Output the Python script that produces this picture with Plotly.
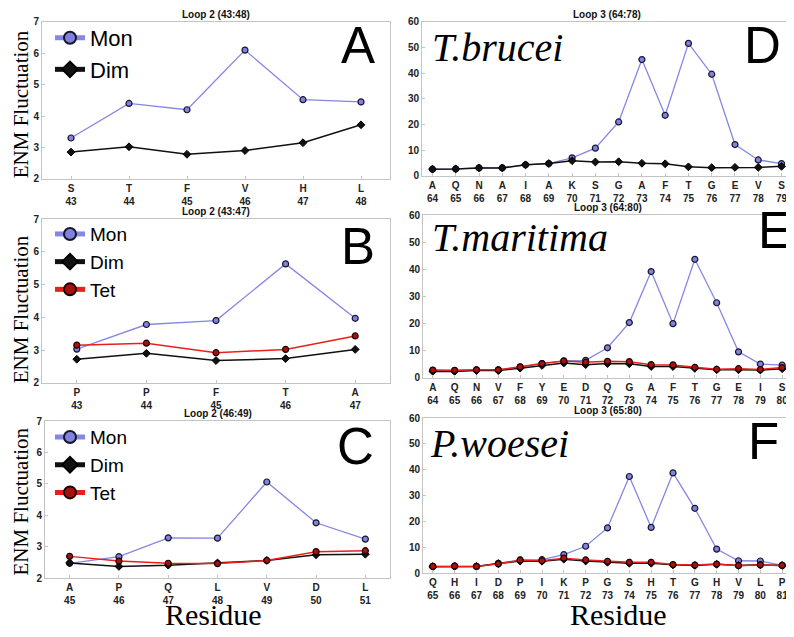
import plotly.graph_objects as go

# ---- data ----
a_res = ["S", "T", "F", "V", "H", "L"]
a_num = [43, 44, 45, 46, 47, 48]
a_mon = [3.30, 4.40, 4.20, 6.10, 4.52, 4.45]
a_dim = [2.85, 3.02, 2.78, 2.90, 3.15, 3.72]

b_res = ["P", "P", "F", "T", "A"]
b_num = [43, 44, 45, 46, 47]
b_mon = [3.03, 3.78, 3.90, 5.63, 3.97]
b_dim = [2.72, 2.90, 2.68, 2.74, 3.02]
b_tet = [3.15, 3.21, 2.92, 3.02, 3.43]

c_res = ["A", "P", "Q", "L", "V", "D", "L"]
c_num = [45, 46, 47, 48, 49, 50, 51]
c_mon = [2.47, 2.68, 3.28, 3.27, 5.06, 3.76, 3.24]
c_dim = [2.48, 2.37, 2.41, 2.48, 2.56, 2.74, 2.76]
c_tet = [2.69, 2.54, 2.47, 2.46, 2.56, 2.84, 2.87]

d_res = ["A", "Q", "N", "A", "I", "A", "K", "S", "G", "A", "F", "T", "G", "E", "V", "S"]
d_num = [64, 65, 66, 67, 68, 69, 70, 71, 72, 73, 74, 75, 76, 77, 78, 79]
d_mon = [2.6, 2.7, 3.1, 3.1, 4.3, 4.8, 7.0, 10.8, 21.0, 45.3, 23.6, 51.6, 39.6, 12.2, 6.2, 4.8]
d_dim = [2.6, 2.7, 3.1, 3.1, 4.3, 4.8, 5.9, 5.4, 5.5, 4.9, 4.7, 3.5, 3.2, 3.3, 3.3, 3.7]

e_res = ["A", "Q", "N", "V", "F", "Y", "E", "D", "Q", "G", "A", "F", "T", "G", "E", "I", "S"]
e_num = [64, 65, 66, 67, 68, 69, 70, 71, 72, 73, 74, 75, 76, 77, 78, 79, 80]
e_mon = [2.8, 2.7, 3.0, 3.0, 4.0, 5.3, 6.3, 6.5, 11.1, 20.4, 39.2, 20.0, 43.7, 27.7, 9.6, 5.1, 4.7]
e_dim = [2.4, 2.4, 2.7, 2.7, 3.6, 4.6, 5.5, 4.9, 5.3, 5.2, 4.2, 4.2, 3.5, 3.0, 3.0, 2.9, 3.4]
e_tet = [2.9, 2.8, 3.0, 3.0, 4.1, 5.3, 6.2, 5.8, 6.1, 6.0, 4.9, 4.8, 3.9, 3.2, 3.4, 3.1, 3.8]

f_res = ["Q", "H", "I", "D", "P", "I", "K", "P", "G", "S", "H", "T", "G", "H", "V", "L", "P"]
f_num = [65, 66, 67, 68, 69, 70, 71, 72, 73, 74, 75, 76, 77, 78, 79, 80, 81]
f_mon = [2.6, 2.7, 2.6, 3.8, 5.1, 5.2, 7.2, 10.4, 17.5, 37.4, 17.7, 38.8, 25.1, 9.3, 4.8, 4.7, 3.0]
f_dim = [2.5, 2.6, 2.6, 3.7, 4.7, 4.6, 5.4, 4.7, 4.2, 3.8, 3.8, 3.2, 3.0, 3.4, 3.0, 3.2, 3.0]
f_tet = [2.6, 2.7, 2.6, 3.6, 5.0, 4.8, 5.8, 5.1, 4.6, 4.2, 4.2, 3.3, 3.1, 3.5, 2.9, 3.2, 3.0]

# the page body has an 8px margin, so the figure sits at (8, 8)
OFF = 8
W, H = 794 - OFF, 637 - OFF

MON = dict(line=dict(color="#8686e4", width=1.3),
           marker=dict(symbol="circle", size=6, color="#8282dc", line=dict(color="#15152e", width=1.2)))
DIM = dict(line=dict(color="#111111", width=1.5),
           marker=dict(symbol="diamond", size=6, color="#111111", line=dict(color="#000000", width=1)))
TET = dict(line=dict(color="#e8201a", width=1.5),
           marker=dict(symbol="circle", size=6, color="#a81010", line=dict(color="#1a0000", width=1.2)))


def fx(x):
    return (x - OFF) / W


def fy(y):
    return 1 - (y - OFF) / H


def px(x, y, **kw):
    # annotation placed by page pixel position
    d = dict(x=fx(x), y=fy(y), xref="paper", yref="paper", showarrow=False,
             xanchor="center", yanchor="middle")
    d.update(kw)
    return d


fig = go.Figure()

panels = [
    ("", (42, 390), (16, 176), a_res, a_num, [("Mon", a_mon, MON), ("Dim", a_dim, DIM)],
     [2, 7], list(range(2, 8)), "Loop 2 (43:48)", "legend"),
    ("2", (42, 390), (217, 384), b_res, b_num, [("Mon", b_mon, MON), ("Dim", b_dim, DIM), ("Tet", b_tet, TET)],
     [2, 7], list(range(2, 8)), "Loop 2 (43:47)", "legend2"),
    ("3", (45, 390), (423, 583), c_res, c_num, [("Mon", c_mon, MON), ("Dim", c_dim, DIM), ("Tet", c_tet, TET)],
     [2, 7], list(range(2, 8)), "Loop 2 (46:49)", "legend3"),
    ("4", (422, 792), (16, 173), d_res, d_num, [("Mon", d_mon, MON), ("Dim", d_dim, DIM)],
     [0, 60], list(range(0, 61, 10)), "Loop 3 (64:78)", None),
    ("5", (423, 792), (213, 379), e_res, e_num, [("Mon", e_mon, MON), ("Dim", e_dim, DIM), ("Tet", e_tet, TET)],
     [0, 60], list(range(0, 61, 10)), "Loop 3 (64:80)", None),
    ("6", (423, 792), (420, 578), f_res, f_num, [("Mon", f_mon, MON), ("Dim", f_dim, DIM), ("Tet", f_tet, TET)],
     [0, 60], list(range(0, 61, 10)), "Loop 3 (65:80)", None),
]

annotations = []
layout_axes = {}
for suf, (x0, x1), (y0, y1), res, num, series, yr, yt, title, leg in panels:
    for name, vals, style in series:
        fig.add_trace(go.Scatter(
            x=num, y=vals, name=name, mode="lines+markers",
            line=style["line"], marker=style["marker"],
            xaxis="x" + suf, yaxis="y" + suf,
            showlegend=leg is not None, legend=leg if leg else "legend",
        ))
    pad = 0.5 if leg else 0.45
    common = dict(showline=True, mirror=True, linecolor="#c4c4c4", linewidth=1,
                  ticks="inside", ticklen=3, tickcolor="#c4c4c4", showgrid=False, zeroline=False,
                  tickfont=dict(family="Liberation Sans", size=10, color="#222222", weight="bold"))
    layout_axes["xaxis" + suf] = dict(
        domain=[fx(x0), fx(x1)], anchor="y" + suf, range=[num[0] - pad, num[-1] + pad],
        tickvals=num, ticktext=[f"{r}<br>{n}" for r, n in zip(res, num)], **common)
    layout_axes["yaxis" + suf] = dict(
        domain=[fy(y1), fy(y0)], anchor="x" + suf, range=yr, tickvals=yt, **common)
    annotations.append(px((x0 + x1) / 2, y0 - 8, text=title,
                          font=dict(family="Liberation Sans", size=10, color="#111", weight="bold")))

fig.update_layout(**layout_axes)

# big panel letters
for letter, lx, ly in [("A", 358, 40), ("B", 358, 245), ("C", 355, 449),
                       ("D", 762, 40), ("E", 775, 229), ("F", 763, 444)]:
    annotations.append(px(lx, ly, text=letter, font=dict(family="Liberation Sans", size=51, color="#000")))

# species names
for sp, sx, sy in [("T.brucei", 430, 42), ("T.maritima", 430, 236), ("P.woesei", 428, 446)]:
    annotations.append(px(sx, sy, text=f"<i>{sp}</i>", xanchor="left",
                          font=dict(family="Liberation Serif", size=40, color="#000")))

# y axis labels
for ly in [100, 309, 505]:
    annotations.append(px(21, ly, text="ENM Fluctuation", textangle=-90,
                          font=dict(family="Liberation Serif", size=21, color="#000")))

# x axis labels
for lx in [213, 618]:
    annotations.append(px(lx, 620, text="Residue",
                          font=dict(family="Liberation Serif", size=30, color="#000")))

legend_style = dict(bgcolor="rgba(0,0,0,0)", itemsizing="constant",
                    xanchor="left", yanchor="top", borderwidth=0)

fig.update_layout(
    width=W, height=H,
    margin=dict(l=0, r=0, t=0, b=0),
    paper_bgcolor="white", plot_bgcolor="white",
    annotations=annotations,
    legend=dict(x=fx(50), y=fy(11), font=dict(family="Liberation Sans", size=22, color="#000"),
                **legend_style),
    legend2=dict(x=fx(50), y=fy(213), font=dict(family="Liberation Sans", size=19, color="#000"),
                 **legend_style),
    legend3=dict(x=fx(50), y=fy(420), font=dict(family="Liberation Sans", size=19, color="#000"),
                 **legend_style),
)

fig.write_html("out.html")
